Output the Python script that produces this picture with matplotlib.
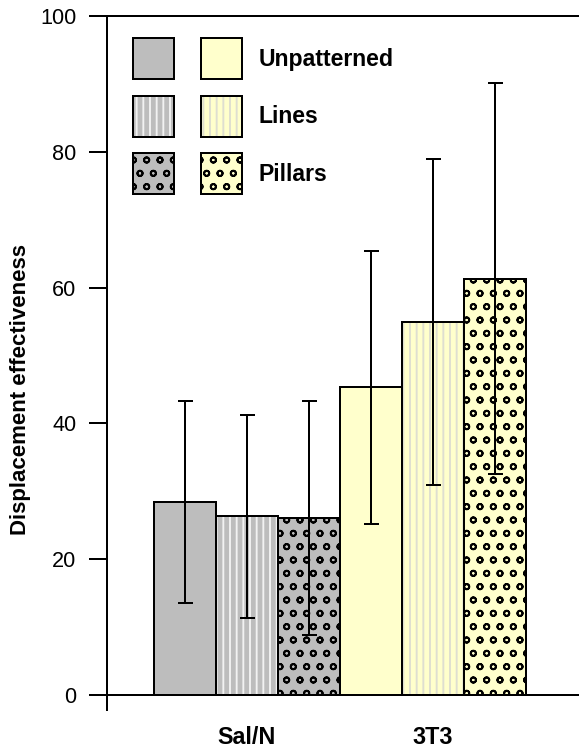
import matplotlib
matplotlib.use('Agg')
import matplotlib.pyplot as plt
from matplotlib.patches import Patch
from matplotlib.legend_handler import HandlerTuple
import numpy as np

# data
groups = ['Sal/N', '3T3']
surfaces = ['Unpatterned', 'Lines', 'Pillars']
sal_mean = [28.4, 26.3, 26.1]
sal_err = [14.9, 14.9, 17.2]
t3t3_mean = [45.3, 55.0, 61.3]
t3t3_err = [20.1, 24.0, 28.8]

gray = '#bdbdbd'
yellow = '#ffffcc'
hatches = ['', '||', 'o']
hatch_colors = {gray: ['#bdbdbd', '#f2f2f2', 'black'],
                yellow: ['#ffffcc', '#deded0', 'black']}

plt.rcParams['font.family'] = ['Liberation Sans', 'DejaVu Sans']
plt.rcParams['hatch.linewidth'] = 1.7

DPI = 80
fig = plt.figure(figsize=(579 / DPI, 748 / DPI), dpi=DPI)
ax = fig.add_axes([107 / 579, 38 / 748, 472 / 579, 694 / 748])

lw = 1.8


class Stack(tuple):
    """handles drawn on top of each other in the legend"""
    pass


def draw_group(positions, means, errs, color):
    for i, (p, m) in enumerate(zip(positions, means)):
        # hatch layer (hatch colour comes from edgecolor)
        ax.bar(p, m, width=1.0, color=color, edgecolor=hatch_colors[color][i],
               hatch=hatches[i], linewidth=0, zorder=2)
        # outline
        ax.bar(p, m, width=1.0, fill=False, edgecolor='black', linewidth=lw, zorder=3)
    ax.errorbar(positions, means, yerr=errs, fmt='none', ecolor='black',
                elinewidth=lw, capsize=6.75, capthick=lw, zorder=4)


pos_sal = np.arange(3)
pos_3t3 = np.arange(3) + 3
draw_group(pos_sal, sal_mean, sal_err, gray)
draw_group(pos_3t3, t3t3_mean, t3t3_err, yellow)

# spines first: moving a spine resets the ticks
ax.spines['right'].set_visible(False)
ax.spines['bottom'].set_position(('data', 0))
for s in ['left', 'top', 'bottom']:
    ax.spines[s].set_linewidth(lw)

ax.set_xlim(-1.258, 6.355)
ax.set_ylim(-2.2, 100)
ax.tick_params(axis='y', direction='out', length=16.5, width=lw, pad=11,
               labelsize=19.5)
ax.tick_params(axis='x', length=0, pad=28, labelsize=21)
ax.set_yticks(range(0, 101, 20))
ax.set_xticks([pos_sal.mean(), pos_3t3.mean()], labels=groups,
              fontweight='bold')

ax.set_ylabel('Displacement effectiveness', fontsize=20, fontweight='bold')
ax.yaxis.set_label_coords(-0.16, 0.462)

# legend: gray + yellow swatch pairs per surface
handles = []
for i in range(3):
    pair = []
    for c in (gray, yellow):
        pair.append(Stack((Patch(facecolor=c, edgecolor=hatch_colors[c][i],
                                 hatch=hatches[i], linewidth=0),
                           Patch(fill=False, edgecolor='black', linewidth=lw))))
    handles.append(tuple(pair))

fs = 20.7
fs_px = fs * DPI / 72
box_h = 41 / fs_px
ax.legend(handles, surfaces, loc='upper left',
          bbox_to_anchor=(26 / 472, (710 - 38) / 694),
          frameon=False, borderpad=0, borderaxespad=0,
          prop={'size': fs, 'weight': 'bold'},
          handlelength=109 / fs_px, handleheight=(box_h - 0.245) / 0.65,
          handletextpad=17 / fs_px, labelspacing=16.5 / fs_px,
          handler_map={tuple: HandlerTuple(ndivide=None, pad=27 / fs_px),
                       Stack: HandlerTuple(ndivide=1)})

fig.savefig('out.png', dpi=DPI)
